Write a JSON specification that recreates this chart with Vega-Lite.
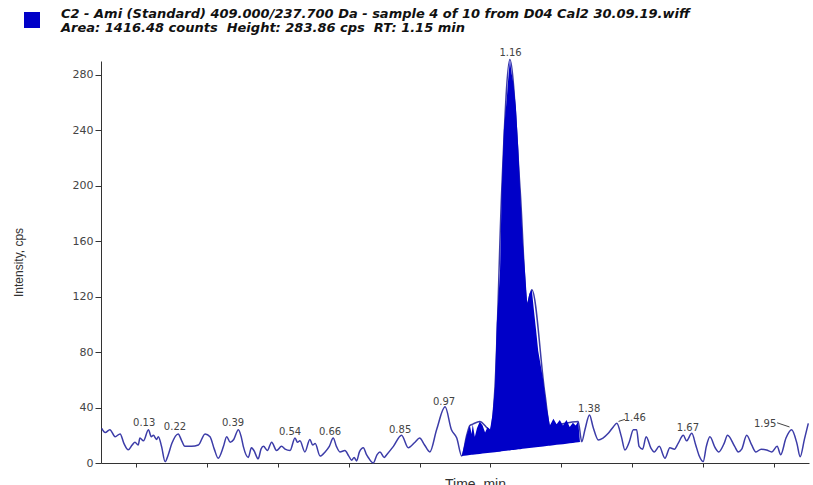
{
  "$schema": "https://vega.github.io/schema/vega-lite/v6.json",
  "width": 708,
  "height": 402,
  "autosize": {"type": "none"},
  "padding": {"left": 101, "top": 61, "right": 4, "bottom": 22},
  "background": "white",
  "config": {"view": {"stroke": null}, "font": "DejaVu Sans"},
  "title": {
    "text": ["C2 - Ami (Standard) 409.000/237.700 Da - sample 4 of 10 from D04 Cal2 30.09.19.wiff", "\u00a0Area: 1416.48 counts\u00a0\u00a0Height: 283.86 cps\u00a0\u00a0RT: 1.15 min"],
    "anchor": "start",
    "frame": "group",
    "dx": -40,
    "dy": 24,
    "font": "DejaVu Sans",
    "fontSize": 13,
    "fontWeight": "bold",
    "fontStyle": "italic",
    "color": "#111111",
    "lineHeight": 14,
    "offset": 0
  },
  "datasets": {
    "trace": [
      {"t": 0.002, "i": 25}, {"t": 0.012, "i": 22}, {"t": 0.025, "i": 24}, {"t": 0.04, "i": 19}, {"t": 0.054, "i": 21},
      {"t": 0.065, "i": 14}, {"t": 0.077, "i": 9.5}, {"t": 0.088, "i": 13}, {"t": 0.096, "i": 15}, {"t": 0.105, "i": 13},
      {"t": 0.11, "i": 18}, {"t": 0.12, "i": 16}, {"t": 0.134, "i": 24}, {"t": 0.142, "i": 19}, {"t": 0.148, "i": 20},
      {"t": 0.157, "i": 17}, {"t": 0.162, "i": 19}, {"t": 0.171, "i": 12}, {"t": 0.181, "i": 1}, {"t": 0.19, "i": 6},
      {"t": 0.2, "i": 14}, {"t": 0.218, "i": 21}, {"t": 0.228, "i": 16}, {"t": 0.237, "i": 12}, {"t": 0.256, "i": 12},
      {"t": 0.275, "i": 13}, {"t": 0.294, "i": 21}, {"t": 0.308, "i": 19}, {"t": 0.32, "i": 10}, {"t": 0.331, "i": 3.5},
      {"t": 0.346, "i": 12}, {"t": 0.355, "i": 19}, {"t": 0.365, "i": 15}, {"t": 0.375, "i": 17}, {"t": 0.388, "i": 24},
      {"t": 0.396, "i": 19}, {"t": 0.402, "i": 12}, {"t": 0.416, "i": 4}, {"t": 0.425, "i": 11}, {"t": 0.432, "i": 9},
      {"t": 0.444, "i": 3}, {"t": 0.452, "i": 10}, {"t": 0.459, "i": 12}, {"t": 0.47, "i": 9}, {"t": 0.482, "i": 15},
      {"t": 0.496, "i": 9}, {"t": 0.51, "i": 12}, {"t": 0.52, "i": 10}, {"t": 0.534, "i": 9}, {"t": 0.548, "i": 18},
      {"t": 0.555, "i": 15}, {"t": 0.562, "i": 16}, {"t": 0.576, "i": 8}, {"t": 0.59, "i": 17}, {"t": 0.598, "i": 13},
      {"t": 0.605, "i": 14}, {"t": 0.619, "i": 5}, {"t": 0.633, "i": 8}, {"t": 0.645, "i": 12}, {"t": 0.656, "i": 18},
      {"t": 0.665, "i": 12}, {"t": 0.675, "i": 8}, {"t": 0.689, "i": 9}, {"t": 0.7, "i": 5}, {"t": 0.708, "i": 2},
      {"t": 0.715, "i": 4}, {"t": 0.722, "i": 1.5}, {"t": 0.73, "i": 8}, {"t": 0.741, "i": 11}, {"t": 0.75, "i": 6},
      {"t": 0.755, "i": 4}, {"t": 0.769, "i": 0}, {"t": 0.78, "i": 6}, {"t": 0.788, "i": 8}, {"t": 0.8, "i": 4},
      {"t": 0.807, "i": 6}, {"t": 0.826, "i": 12}, {"t": 0.849, "i": 20}, {"t": 0.868, "i": 11}, {"t": 0.887, "i": 15},
      {"t": 0.9, "i": 18}, {"t": 0.914, "i": 13}, {"t": 0.929, "i": 8}, {"t": 0.948, "i": 24}, {"t": 0.972, "i": 40.5},
      {"t": 0.99, "i": 24}, {"t": 1.005, "i": 18}, {"t": 1.019, "i": 5},
      {"t": 1.033, "i": 20}, {"t": 1.042, "i": 27}, {"t": 1.05, "i": 28}, {"t": 1.07, "i": 30}, {"t": 1.099, "i": 24},
      {"t": 1.113, "i": 55}, {"t": 1.132, "i": 197}, {"t": 1.155, "i": 291}, {"t": 1.184, "i": 197}, {"t": 1.204, "i": 115},
      {"t": 1.217, "i": 125}, {"t": 1.254, "i": 50}, {"t": 1.268, "i": 27}, {"t": 1.348, "i": 30}, {"t": 1.358, "i": 15.4},
      {"t": 1.367, "i": 24}, {"t": 1.38, "i": 34.6}, {"t": 1.39, "i": 26}, {"t": 1.405, "i": 16.6}, {"t": 1.418, "i": 18},
      {"t": 1.433, "i": 21.4}, {"t": 1.447, "i": 26}, {"t": 1.457, "i": 28.6}, {"t": 1.47, "i": 19}, {"t": 1.48, "i": 9.4},
      {"t": 1.492, "i": 15}, {"t": 1.504, "i": 24}, {"t": 1.513, "i": 24}, {"t": 1.52, "i": 12}, {"t": 1.53, "i": 10},
      {"t": 1.54, "i": 19}, {"t": 1.553, "i": 11}, {"t": 1.563, "i": 8}, {"t": 1.577, "i": 12}, {"t": 1.593, "i": 3.4},
      {"t": 1.607, "i": 11}, {"t": 1.62, "i": 10}, {"t": 1.63, "i": 14}, {"t": 1.645, "i": 20}, {"t": 1.654, "i": 16},
      {"t": 1.669, "i": 21.4}, {"t": 1.68, "i": 13}, {"t": 1.69, "i": 5}, {"t": 1.701, "i": 1}, {"t": 1.71, "i": 12},
      {"t": 1.72, "i": 19}, {"t": 1.735, "i": 11}, {"t": 1.745, "i": 8}, {"t": 1.76, "i": 14}, {"t": 1.77, "i": 20},
      {"t": 1.79, "i": 12}, {"t": 1.8, "i": 8}, {"t": 1.81, "i": 10}, {"t": 1.824, "i": 20}, {"t": 1.838, "i": 13},
      {"t": 1.85, "i": 8}, {"t": 1.865, "i": 10}, {"t": 1.88, "i": 9.4}, {"t": 1.895, "i": 8}, {"t": 1.91, "i": 12},
      {"t": 1.92, "i": 6}, {"t": 1.935, "i": 18}, {"t": 1.951, "i": 24}, {"t": 1.966, "i": 14}, {"t": 1.975, "i": 4.5},
      {"t": 1.987, "i": 17}, {"t": 1.998, "i": 28.6}
    ],
    "peak": [
      {"t": 1.019, "i": 5, "base": 5}, {"t": 1.033, "i": 20, "base": 5.4}, {"t": 1.042, "i": 27, "base": 5.7},
      {"t": 1.047, "i": 21, "base": 5.9}, {"t": 1.05, "i": 28, "base": 6}, {"t": 1.056, "i": 19, "base": 6.2},
      {"t": 1.062, "i": 25, "base": 6.3}, {"t": 1.07, "i": 30, "base": 6.5}, {"t": 1.078, "i": 27, "base": 6.8},
      {"t": 1.085, "i": 22, "base": 7}, {"t": 1.092, "i": 26, "base": 7.2}, {"t": 1.099, "i": 24, "base": 7.4},
      {"t": 1.106, "i": 35, "base": 7.6}, {"t": 1.113, "i": 55, "base": 7.8}, {"t": 1.118, "i": 101, "base": 8},
      {"t": 1.127, "i": 137, "base": 8.2}, {"t": 1.132, "i": 197, "base": 8.4}, {"t": 1.138, "i": 240, "base": 8.6},
      {"t": 1.146, "i": 262, "base": 8.8}, {"t": 1.15, "i": 276, "base": 9}, {"t": 1.155, "i": 291, "base": 9.1},
      {"t": 1.16, "i": 281, "base": 9.3}, {"t": 1.165, "i": 274, "base": 9.4}, {"t": 1.172, "i": 257, "base": 9.6},
      {"t": 1.179, "i": 226, "base": 9.9}, {"t": 1.184, "i": 197, "base": 10}, {"t": 1.191, "i": 161, "base": 10.2},
      {"t": 1.198, "i": 137, "base": 10.4}, {"t": 1.204, "i": 115, "base": 10.6}, {"t": 1.21, "i": 122, "base": 10.8},
      {"t": 1.217, "i": 125, "base": 11}, {"t": 1.223, "i": 110, "base": 11.1}, {"t": 1.229, "i": 96, "base": 11.3},
      {"t": 1.235, "i": 81, "base": 11.5}, {"t": 1.243, "i": 69, "base": 11.7}, {"t": 1.249, "i": 60, "base": 11.9},
      {"t": 1.254, "i": 50, "base": 12.1}, {"t": 1.259, "i": 40, "base": 12.2}, {"t": 1.264, "i": 33, "base": 12.4},
      {"t": 1.268, "i": 27, "base": 12.5}, {"t": 1.278, "i": 32, "base": 12.8}, {"t": 1.287, "i": 28, "base": 13.1},
      {"t": 1.296, "i": 31, "base": 13.4}, {"t": 1.305, "i": 27, "base": 13.6}, {"t": 1.315, "i": 31, "base": 13.9},
      {"t": 1.324, "i": 26, "base": 14.2}, {"t": 1.333, "i": 29, "base": 14.5}, {"t": 1.341, "i": 27, "base": 14.8},
      {"t": 1.348, "i": 30, "base": 15}, {"t": 1.353, "i": 15.4, "base": 15.2}, {"t": 1.358, "i": 15.4, "base": 15.4}
    ],
    "labels": [
      {"t": 0.122, "i": 28.5, "label": "0.13"}, {"t": 0.209, "i": 26, "label": "0.22"},
      {"t": 0.373, "i": 29, "label": "0.39"}, {"t": 0.534, "i": 22.6, "label": "0.54"},
      {"t": 0.647, "i": 22.6, "label": "0.66"}, {"t": 0.845, "i": 24, "label": "0.85"},
      {"t": 0.969, "i": 44, "label": "0.97"}, {"t": 1.157, "i": 296, "label": "1.16"},
      {"t": 1.379, "i": 39, "label": "1.38"}, {"t": 1.508, "i": 32.8, "label": "1.46"},
      {"t": 1.658, "i": 25.6, "label": "1.67"}, {"t": 1.876, "i": 28, "label": "1.95"}
    ],
    "leaders": [
      {"t": 1.462, "i": 30, "t2": 1.48, "i2": 31.5},
      {"t": 1.91, "i": 29, "t2": 1.945, "i2": 26}
    ]
  },
  "layer": [
    {
      "data": {"name": "trace"},
      "mark": {"type": "line", "color": "#3c3ca8", "strokeWidth": 1.5, "interpolate": "monotone"},
      "encoding": {
        "x": {
          "field": "t", "type": "quantitative",
          "scale": {"domain": [0, 2], "nice": false, "zero": false},
          "axis": {
            "title": "Time, min",
            "values": [0.1, 0.2, 0.3, 0.4, 0.5, 0.6, 0.7, 0.8, 0.9, 1.0, 1.1, 1.2, 1.3, 1.4, 1.5, 1.6, 1.7, 1.8, 1.9],
            "labelExpr": "round(datum.value * 10) % 2 == 0 ? format(datum.value, '.1f') : ''",
            "labelOverlap": false,
            "labelFlush": false,
            "grid": false,
            "tickSize": 4,
            "labelPadding": 2,
            "labelFont": "DejaVu Sans",
            "labelFontSize": 11,
            "labelColor": "#444444",
            "domainColor": "#333333",
            "tickColor": "#333333",
            "titleFont": "Liberation Sans",
            "titleFontSize": 14,
            "titleFontWeight": "normal",
            "titleColor": "#333333",
            "titleX": 374,
            "titleY": 14,
            "titleBaseline": "top"
          }
        },
        "y": {
          "field": "i", "type": "quantitative",
          "scale": {"domain": [0, 290], "nice": false},
          "axis": {
            "title": "Intensity, cps",
            "values": [0, 10, 20, 30, 40, 50, 60, 70, 80, 90, 100, 110, 120, 130, 140, 150, 160, 170, 180, 190, 200, 210, 220, 230, 240, 250, 260, 270, 280, 290],
            "labelExpr": "datum.value % 20 == 0 ? datum.value : ''",
            "labelOverlap": false,
            "labelFlush": false,
            "grid": false,
            "tickSize": 6,
            "labelPadding": 2,
            "labelFont": "DejaVu Sans",
            "labelFontSize": 11,
            "labelColor": "#444444",
            "domainColor": "#333333",
            "tickColor": "#333333",
            "titleFont": "Liberation Sans",
            "titleFontSize": 12,
            "titleFontWeight": "normal",
            "titleColor": "#333333",
            "titleX": -83,
            "titleY": 201,
            "titleAngle": 270,
            "titleBaseline": "middle",
            "titleAlign": "center"
          }
        }
      }
    },
    {
      "data": {"name": "peak"},
      "mark": {"type": "area", "interpolate": "linear", "opacity": 1},
      "encoding": {
        "x": {"field": "t", "type": "quantitative"},
        "y": {"field": "i", "type": "quantitative"},
        "y2": {"field": "base"},
        "color": {
          "datum": "C2", "type": "nominal",
          "scale": {"range": ["#0000C8"]},
          "legend": {
            "orient": "none", "legendX": -78, "legendY": -50,
            "title": null, "labelExpr": "''", "symbolType": "square",
            "symbolSize": 256, "padding": 0, "symbolOffset": 0,
            "encode": {"symbols": {"update": {"fill": {"value": "#0000F0"}, "stroke": {"value": "#000050"}, "strokeWidth": {"value": 1}, "opacity": {"value": 1}}}}
          }
        }
      }
    },
    {
      "data": {"name": "labels"},
      "mark": {"type": "text", "font": "DejaVu Sans", "fontSize": 10, "color": "#444444", "baseline": "middle", "align": "center"},
      "encoding": {
        "x": {"field": "t", "type": "quantitative"},
        "y": {"field": "i", "type": "quantitative"},
        "text": {"field": "label"}
      }
    },
    {
      "data": {"name": "leaders"},
      "mark": {"type": "rule", "color": "#444444", "strokeWidth": 1},
      "encoding": {
        "x": {"field": "t", "type": "quantitative"},
        "x2": {"field": "t2"},
        "y": {"field": "i", "type": "quantitative"},
        "y2": {"field": "i2"}
      }
    }
  ]
}
